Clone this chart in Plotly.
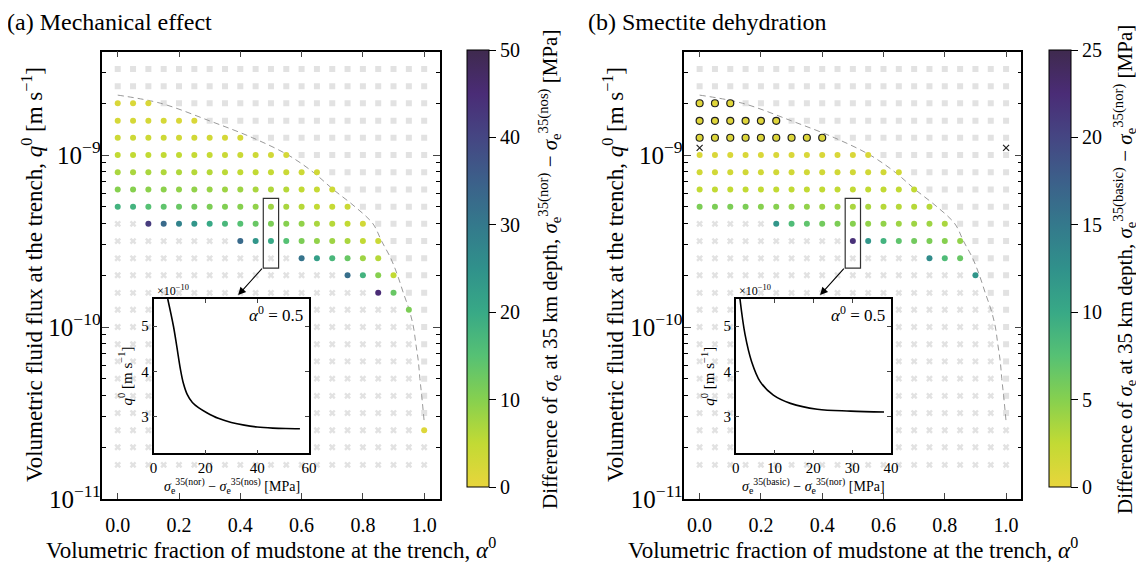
import plotly.graph_objects as go

# ---------------- data ----------------
alpha = [0.0, 0.05, 0.1, 0.15, 0.2, 0.25, 0.3, 0.35, 0.4, 0.45, 0.5,
         0.55, 0.6, 0.65, 0.7, 0.75, 0.8, 0.85, 0.9, 0.95, 1.0]
q_rows = [3.16e-9, 2.51e-9, 2.0e-9, 1.58e-9, 1.26e-9, 1.0e-9, 7.94e-10, 6.31e-10,
          5.01e-10, 3.98e-10, 3.16e-10, 2.51e-10, 2.0e-10, 1.58e-10, 1.26e-10,
          1.0e-10, 7.94e-11, 6.31e-11, 5.01e-11, 3.98e-11, 3.16e-11, 2.51e-11,
          2.0e-11, 1.58e-11]
# first column index (per row) from which the grid points lie beyond the limit
square_start = [0, 0, 3, 6, 9, 12, 14, 15, 16, 17, 18, 18, 19, 19, 20,
                20, 20, 20, 20, 20, 20, 21, 21, 21]

# panel (a): row index -> (first column, values [MPa])
diff_a = {
    2: (0, [2, 2, 2]),
    3: (0, [2.5, 2.5, 2.5, 2.5, 2, 2]),
    4: (0, [3.5, 3.5, 3.5, 3.5, 3, 3, 3, 2.5, 2.5]),
    5: (0, [5, 5, 5, 5, 5, 4.5, 4.5, 4, 4, 3.5, 3, 2.5]),
    6: (0, [7, 7, 7, 6.5, 6.5, 6, 6, 5.5, 5, 5, 4.5, 4, 3.5, 3]),
    7: (0, [10, 10, 9.5, 9.5, 9, 9, 8.5, 8, 8, 7, 6.5, 6, 5, 4.5, 3.5]),
    8: (0, [18, 18, 15, 14, 13, 12, 11, 10.5, 10, 9, 8, 7, 6, 5, 4.5, 4]),
    9: (2, [42, 33, 28, 24, 20, 17, 15, 13, 11, 10, 9, 7, 6, 5, 3]),
    10: (8, [33, 24, 20, 15, 11, 9, 8, 7, 5, 4]),
    11: (12, [31, 22, 17, 13, 8, 6]),
    12: (15, [32, 18, 10, 5]),
    13: (17, [45, 13]),
    14: (19, [11]),
    21: (20, [1.5]),
}
# panel (b)
diff_b = {
    5: (0, [1] * 12),
    6: (0, [1.5] * 14),
    7: (0, [2.5] * 15),
    8: (0, [5.5, 5.5, 5.5, 5.5, 5, 5, 4.5, 4.5, 4, 4, 3.5, 3.5, 3, 3, 3, 3]),
    9: (5, [12, 8, 7, 6, 5.5, 5, 4.5, 4.5, 4, 4, 4, 3.5]),
    10: (10, [22, 12, 9, 7, 6, 5.5, 5, 4.5]),
    11: (15, [13, 8, 6.5]),
    12: (18, [12]),
}
# panel (b) points outlined in black
diff_b_edge = {
    2: (0, [0.5, 0.5, 0.5]),
    3: (0, [0.5] * 6),
    4: (0, [0.7] * 9),
}
cross_b_alpha = [0.0, 1.0]
cross_b_q = [1.1e-9, 1.1e-9]

# limit curve (dashed)
limit_alpha = [0.0, 0.14, 0.30, 0.44, 0.556, 0.638, 0.703, 0.774, 0.833, 0.861,
               0.891, 0.913, 0.932, 0.951, 0.965, 0.973, 0.981, 0.986, 0.992, 1.0]
limit_q = [2.23e-9, 2.0e-9, 1.58e-9, 1.26e-9, 1.0e-9, 7.94e-10, 6.31e-10, 5.01e-10,
           3.98e-10, 3.16e-10, 2.51e-10, 2.0e-10, 1.58e-10, 1.26e-10, 1.0e-10,
           7.94e-11, 6.31e-11, 5.01e-11, 3.98e-11, 2.82e-11]

# insets (alpha0 = 0.5): x = stress difference [MPa], y = q0 [1e-10 m/s]
inset_a_x = [5.5, 7.7, 9.0, 10.4, 11.5, 13.0, 15.0, 17.5, 20.4, 25.0, 30.0, 35.0, 40.0, 46.0, 51.0, 56.5]
inset_a_y = [5.6, 5.0, 4.55, 4.05, 3.75, 3.5, 3.32, 3.2, 3.1, 2.97, 2.88, 2.82, 2.78, 2.755, 2.745, 2.74]
inset_b_x = [1.1, 2.4, 4.1, 6.3, 9.7, 14.1, 21.0, 29.6, 38.2]
inset_b_y = [5.6, 4.82, 4.22, 3.78, 3.48, 3.30, 3.17, 3.13, 3.11]

# ---------------- styling ----------------
FONT = "Liberation Serif"
OFF = 8                      # default page margin around the plot div
W, H = 1144 - OFF, 568 - OFF
GRAY = "#e2e2e2"
cscale = [[0.0, '#e8d53c'], [0.1, '#c2da34'], [0.2, '#86d04f'], [0.3, '#56c174'],
          [0.4, '#38a986'], [0.5, '#30918b'], [0.6, '#34798c'], [0.7, '#3c608a'],
          [0.8, '#454683'], [0.9, '#4a2c76'], [1.0, '#3f2a4e']]


def px(x):
    return (x - OFF) / W


def py(y):
    return 1 - (y - OFF) / H


fig = go.Figure()


def grid_traces(diff, diff_edge, xa, ya, cax):
    sqx, sqy, crx, cry = [], [], [], []
    colored = {}
    for d in (diff, diff_edge):
        for r, (s, vals) in d.items():
            for k in range(len(vals)):
                colored[(r, s + k)] = True
    for i, q in enumerate(q_rows):
        for j, a in enumerate(alpha):
            if j >= square_start[i]:
                sqx.append(a); sqy.append(q)
            elif (i, j) not in colored:
                crx.append(a); cry.append(q)
    fig.add_trace(go.Scatter(x=sqx, y=sqy, mode="markers", xaxis=xa, yaxis=ya,
                             marker=dict(symbol="square", size=6, color=GRAY),
                             showlegend=False, hoverinfo="skip"))
    fig.add_trace(go.Scatter(x=crx, y=cry, mode="markers", xaxis=xa, yaxis=ya,
                             marker=dict(symbol="x", size=6, color=GRAY),
                             showlegend=False, hoverinfo="skip"))
    fig.add_trace(go.Scatter(x=limit_alpha, y=limit_q, mode="lines", xaxis=xa, yaxis=ya,
                             line=dict(color="#999999", width=1, dash="6px,4px", shape="spline"),
                             showlegend=False, hoverinfo="skip"))
    for d, edge in ((diff, False), (diff_edge, True)):
        cx, cy, cv = [], [], []
        for r, (s, vals) in d.items():
            for k, v in enumerate(vals):
                cx.append(alpha[s + k]); cy.append(q_rows[r]); cv.append(v)
        if not cx:
            continue
        fig.add_trace(go.Scatter(
            x=cx, y=cy, mode="markers", xaxis=xa, yaxis=ya,
            marker=dict(symbol="circle", size=7 if edge else 6, color=cv, coloraxis=cax,
                        line=dict(color="#222222", width=1.2) if edge else dict(width=0)),
            showlegend=False))


grid_traces(diff_a, {}, "x", "y", "coloraxis")
grid_traces(diff_b, diff_b_edge, "x2", "y2", "coloraxis2")
fig.add_trace(go.Scatter(x=cross_b_alpha, y=cross_b_q, mode="markers", xaxis="x2", yaxis="y2",
                         marker=dict(symbol="x-thin", size=6, line=dict(color="#222222", width=1.2)),
                         showlegend=False))

INS_A_XR, INS_B_XR, INS_YR = [0, 60], [0, 40], [2.2, 5.6]
for xa, ya, xr, cx, cy in (("x3", "y3", INS_A_XR, inset_a_x, inset_a_y),
                           ("x4", "y4", INS_B_XR, inset_b_x, inset_b_y)):
    # white background of the inset, hiding the grid below it
    fig.add_trace(go.Scatter(x=[xr[0], xr[1], xr[1], xr[0], xr[0]],
                             y=[INS_YR[0], INS_YR[0], INS_YR[1], INS_YR[1], INS_YR[0]],
                             mode="lines", fill="toself", fillcolor="white",
                             line=dict(width=0, color="white"), xaxis=xa, yaxis=ya,
                             showlegend=False, hoverinfo="skip"))
    fig.add_trace(go.Scatter(x=cx, y=cy, mode="lines", xaxis=xa, yaxis=ya,
                             line=dict(color="black", width=1.6, shape="spline", smoothing=1.0),
                             showlegend=False))

tickfont = dict(family=FONT, size=20, color="black")
main_x = dict(range=[-0.05, 1.05], tickvals=[0, 0.2, 0.4, 0.6, 0.8, 1.0], tickformat=".1f",
              ticks="inside", ticklen=6, tickwidth=1.3, mirror="ticks", showline=True,
              linecolor="black", linewidth=1.5, showgrid=False, zeroline=False, tickfont=tickfont,
              ticklabelstandoff=7, automargin=False)
main_y = dict(type="log", range=[-11, -8.398], dtick=1, exponentformat="power",
              ticks="inside", ticklen=7, tickwidth=1.3, mirror="ticks", showline=True,
              linecolor="black", linewidth=1.5, showgrid=False, zeroline=False, tickfont=tickfont,
              ticklabelstandoff=-4, automargin=False,
              minor=dict(ticks="inside", ticklen=4, tickwidth=1, tickcolor="black",
                         dtick="D1", showgrid=False))
ydom = [py(499), py(51.5)]
insfont = dict(family=FONT, size=15, color="black")
ins_common = dict(ticks="inside", ticklen=4, tickwidth=1, mirror="ticks", showline=True,
                  linecolor="black", linewidth=1.5, showgrid=False, zeroline=False,
                  tickfont=insfont, automargin=False)
ins_ydom = [py(453.3), py(299)]

cbar_common = dict(thickness=22, thicknessmode="pixels", len=437, lenmode="pixels",
                   y=py(268.5), yanchor="middle", xanchor="left", xpad=0, ypad=0,
                   outlinewidth=1, outlinecolor="black", ticks="outside", ticklen=7,
                   tickwidth=1, tickcolor="black", tickfont=tickfont)

fig.update_layout(
    width=W, height=H, margin=dict(l=0, r=0, t=0, b=0),
    paper_bgcolor="white", plot_bgcolor="white",
    font=dict(family=FONT, color="black"),
    xaxis=dict(domain=[px(102.4), px(439.5)], anchor="y", **main_x),
    yaxis=dict(domain=ydom, anchor="x", **main_y),
    xaxis2=dict(domain=[px(684.3), px(1021.4)], anchor="y2", **main_x),
    yaxis2=dict(domain=ydom, anchor="x2", **main_y),
    xaxis3=dict(domain=[px(153.5), px(309)], anchor="y3", range=INS_A_XR, dtick=20, **ins_common),
    yaxis3=dict(domain=ins_ydom, anchor="x3", range=INS_YR, tickvals=[3, 4, 5], **ins_common),
    xaxis4=dict(domain=[px(735.7), px(891)], anchor="y4", range=INS_B_XR, dtick=10, **ins_common),
    yaxis4=dict(domain=ins_ydom, anchor="x4", range=INS_YR, tickvals=[3, 4, 5], **ins_common),
    coloraxis=dict(cmin=0, cmax=50, colorscale=cscale,
                   colorbar=dict(x=px(467), dtick=10, **cbar_common)),
    coloraxis2=dict(cmin=0, cmax=25, colorscale=cscale,
                    colorbar=dict(x=px(1049), dtick=5, **cbar_common)),
)

# boxes marking alpha0 = 0.5 column and arrows to the insets
for xr, yr in (("x", "y"), ("x2", "y2")):
    fig.add_shape(type="rect", xref=xr, yref=yr, x0=0.475, x1=0.525, y0=2.2e-10, y1=5.6e-10,
                  line=dict(color="#333333", width=1.2), fillcolor="rgba(0,0,0,0)")
    fig.add_annotation(xref=xr, yref=yr, x=0.393, y=-9.814, axref=xr, ayref=yr,
                       ax=0.475, ay=-9.652, text="", showarrow=True, arrowhead=2,
                       arrowsize=1.4, arrowwidth=1.1, arrowcolor="black")

S = "<i>σ</i><sub>e</sub>"
ann = []
# panel titles
ann.append(dict(text="(a) Mechanical effect", x=px(5), y=py(22), xanchor="left", yanchor="middle",
                font=dict(size=24)))
ann.append(dict(text="(b) Smectite dehydration", x=px(586), y=py(22), xanchor="left", yanchor="middle",
                font=dict(size=24)))
# axis titles
for cx in ((102.4 + 439.5) / 2, (684.3 + 1021.4) / 2):
    ann.append(dict(text="Volumetric fraction of mudstone at the trench, <i>α</i><sup>0</sup>",
                    x=px(cx), y=py(548), xanchor="center", yanchor="middle", font=dict(size=23)))
for cx in (32, 613):
    ann.append(dict(text="Volumetric fluid flux at the trench, <i>q</i><sup>0</sup> [m s<sup>−1</sup>]",
                    x=px(cx), y=py(275), xanchor="center", yanchor="middle", textangle=-90,
                    font=dict(size=23)))
# colorbar titles
for cx, sup1, sup2 in ((549, "35(nor)", "35(nos)"), (1124, "35(basic)", "35(nor)")):
    ann.append(dict(text=f"Difference of {S} at 35 km depth, {S}<sup>{sup1}</sup> − {S}<sup>{sup2}</sup> [MPa]",
                    x=px(cx), y=py(270), xanchor="center", yanchor="middle", textangle=-90,
                    font=dict(size=21)))
# inset labels
for left, lab in ((153.5, f"{S}<sup>35(nor)</sup> − {S}<sup>35(nos)</sup> [MPa]"),
                  (735.7, f"{S}<sup>35(basic)</sup> − {S}<sup>35(nor)</sup> [MPa]")):
    ann.append(dict(text=lab, x=px(left + 78), y=py(486), xanchor="center", yanchor="middle",
                    font=dict(size=14)))
    ann.append(dict(text="<i>q</i><sup>0</sup> [m s<sup>−1</sup>]", x=px(left - 28), y=py(376),
                    xanchor="center", yanchor="middle", textangle=-90, font=dict(size=15)))
    ann.append(dict(text="×10<sup>−10</sup>", x=px(left + 1), y=py(290), xanchor="left",
                    yanchor="middle", font=dict(size=12)))
    ann.append(dict(text="<i>α</i><sup>0</sup> = 0.5", x=px(left + 151), y=py(314), xanchor="right",
                    yanchor="middle", font=dict(size=17)))
for a in ann:
    a.update(xref="paper", yref="paper", showarrow=False)
    a["font"] = dict(family=FONT, color="black", **a["font"])
    fig.add_annotation(**a)

fig.write_html("out.html")
